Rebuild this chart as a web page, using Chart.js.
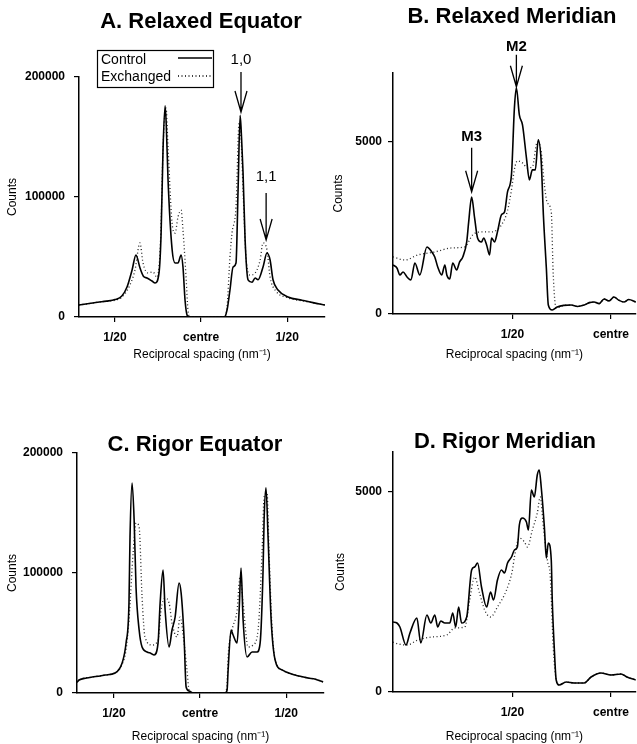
<!DOCTYPE html>
<html>
<head>
<meta charset="utf-8">
<script src="https://cdn.jsdelivr.net/npm/chart.js@4.4.0/dist/chart.umd.min.js"></script>
<style>
  body { margin: 0; background: #fff; }
  #fig { position: relative; width: 637px; height: 744px; overflow: hidden; }
  #fig canvas { position: absolute; }
</style>
</head>
<body>
<div id="fig">
  <canvas id="panelA" width="330" height="370" style="left:0;top:0"></canvas>
  <canvas id="panelB" width="317" height="370" style="left:320px;top:0"></canvas>
  <canvas id="panelC" width="330" height="374" style="left:0;top:370px"></canvas>
  <canvas id="panelD" width="317" height="374" style="left:320px;top:370px"></canvas>
</div>
<script>
// x values are reciprocal spacing in 10^-3 nm^-1 (centre = 0, 1/20 = 50), y values are counts
const seriesNames = ['Control', 'Exchanged'];
const panelTitles = ['A. Relaxed Equator', 'B. Relaxed Meridian', 'C. Rigor Equator', 'D. Rigor Meridian'];
const equatorTicks = [-50, 0, 50];
const equatorTickLabels = ['1/20', 'centre', '1/20'];
const meridianTicks = [-50, 0];
const meridianTickLabels = ['1/20', 'centre'];
const equatorCountTicks = [0, 100000, 200000];
const meridianCountTicks = [0, 5000];

// reflection markers: label, [x, counts at arrow tip]
const relaxedEquatorMarks = [['1,0', [23.2, 170800]], ['1,1', [37.8, 64200]]];
const relaxedMeridianMarks = [['M3', [-70.7, 3550]], ['M2', [-48.0, 6600]]];

const relaxedEquatorControl = [
  [-70.9,10000],[-65,11200],[-60,12300],[-55,13200],[-50,14500],[-46,17500],[-43.0,25000],[-40.1,39000],
  [-37.8,51700],[-35.5,41000],[-33.5,34000],[-31.4,32500],[-28.5,30000],[-26.7,28300],[-24.4,37000],
  [-23.2,70000],[-22.1,139000],[-20.9,176000],[-20.2,160000],[-19.2,115000],[-16.8,56000],[-15.1,45000],
  [-13.4,45000],[-11.6,51700],[-10.5,41700],[-9.3,14000],[-8.1,1500],[-7.0,0],[13.5,0],[15.1,5800],
  [16.8,22500],[18.6,41700],[20.3,45000],[21.5,105800],[22.7,168000],[23.5,150000],[24.4,120000],
  [25.6,64000],[27.3,31000],[29.6,29000],[31.4,32500],[33.1,31000],[36.0,41700],[38.3,53300],[40.1,47500],
  [41.8,31000],[44.7,22500],[50.5,16700],[58.7,14000],[65,12000],[72,10000]
];
const relaxedEquatorExchanged = [
  [-70.9,10000],[-65,11200],[-60,12300],[-55,13200],[-50,14000],[-46,16500],[-41.3,26700],[-38.4,39000],
  [-35.5,61700],[-33.7,45000],[-30.8,36700],[-27.9,37500],[-25.6,33000],[-24.0,50000],[-23.2,78000],
  [-22.1,140000],[-20.3,174000],[-19.2,141700],[-16.8,78000],[-15.1,70000],[-13.4,83300],[-11.6,89000],
  [-10.5,72500],[-8.7,33000],[-7.6,5800],[-6.4,0],[13.5,0],[15.1,8300],[16.8,50000],[18.0,70000],
  [20.3,91700],[22.1,161700],[23.2,150000],[24.4,105800],[26.1,50000],[28.5,35000],[31.4,36700],
  [34.3,47500],[36.0,61700],[38.3,55800],[40.1,33300],[43.0,22500],[50.5,16000],[58.7,13500],[65,11800],[72,10000]
];

const relaxedMeridianControl = [
  [-110.6,1424],[-108.6,1337],[-107.1,1134],[-105.5,1221],[-103.5,1076],[-101.5,988],[-99.5,1483],[-97.0,1134],
  [-93.4,1948],[-90.9,1802],[-89.4,1657],[-87.9,1366],[-85.9,1134],[-84.3,1424],[-83.3,1134],[-81.8,1017],
  [-80.3,1483],[-78.3,1279],[-76.8,1512],[-75.2,1657],[-73.2,2093],[-72.2,2674],[-70.7,3400],[-69.2,2791],
  [-67.7,2209],[-65.7,2093],[-64.6,2209],[-63.1,2006],[-61.6,1715],[-60.6,2209],[-59.1,2093],[-57.6,2384],
  [-55.6,2878],[-54.0,2965],[-52.5,3547],[-50.5,4040],[-49.0,5988],[-48.0,6570],[-46.5,5785],[-44.9,5494],
  [-42.9,4535],[-41.4,3895],[-39.9,4186],[-38.4,4186],[-36.9,5058],[-35.4,4419],[-34.3,2878],[-32.8,1337],
  [-31.8,262],[-29.8,116],[-27.3,203],[-24,250],[-20.2,262],[-17,220],[-13.6,262],[-11,330],[-8.6,349],
  [-6,300],[-3.5,436],[-1,380],[1.5,494],[4,400],[6.6,349],[9,420],[12.6,349]
];
const relaxedMeridianExchanged = [
  [-110.6,1657],[-104.5,1570],[-98.0,1715],[-89.4,1802],[-80.8,1919],[-74.2,1948],[-70.2,2296],[-65.7,2384],
  [-60.6,2384],[-55.6,2587],[-52.5,3000],[-50.5,3600],[-49.0,4200],[-47.5,4450],[-44.9,4390],[-42.4,4244],
  [-39.9,4273],[-37.4,5000],[-35.4,4709],[-33.8,3750],[-32.3,3227],[-30.3,2965],[-29.3,1134],[-27.8,174],
  [-24,250],[-20.2,262],[-17,220],[-13.6,262],[-11,330],[-8.6,349],[-6,300],[-3.5,436],[-1,380],[1.5,494],
  [4,400],[6.6,349],[9,420],[12.6,349]
];

const rigorEquatorControl = [
  [-71.5,9000],[-70.3,10800],[-66,12500],[-62.7,13300],[-58,14200],[-55.2,15000],[-49.4,16700],[-45.3,25000],
  [-43.0,41700],[-41.3,75000],[-40.7,130000],[-39.5,175000],[-38.3,144000],[-37.2,88000],[-35.4,52500],
  [-33.7,38300],[-30.8,34200],[-28.5,33000],[-26.7,31700],[-24.4,41700],[-23.2,75000],[-21.5,102500],
  [-20.3,69000],[-18.0,38300],[-16.3,52500],[-14.5,63300],[-12.2,91700],[-11.0,83300],[-9.3,46700],
  [-8.1,5000],[-6.4,1700],[-4,0],[14.5,0],[15.7,2500],[16.3,19200],[18.0,52500],[19.2,48300],[21.5,41700],
  [22.7,69000],[23.8,104200],[25.0,60800],[27.3,30000],[30.2,34200],[33.1,34200],[34.9,41700],[36.6,102500],
  [37.2,144000],[38.3,171000],[39.5,130000],[41.3,60800],[43.6,27500],[47.6,19200],[55.2,15000],[62.7,12500],
  [67,11500],[71.5,9200]
];
const rigorEquatorExchanged = [
  [-71.5,9000],[-70.3,10800],[-62.7,13300],[-55.2,15000],[-49.4,16700],[-45.3,24000],[-43.0,36000],
  [-41.3,60800],[-38.9,116700],[-37.2,141700],[-35.4,138300],[-33.7,80000],[-32.0,46700],[-27.9,40000],
  [-24.4,44200],[-22.7,69000],[-20.3,79000],[-18.0,75000],[-16.3,58300],[-13.4,46700],[-11.6,63300],
  [-9.3,41700],[-7.6,19200],[-6.4,2500],[-4.1,0],[14.5,0],[15.7,8000],[16.3,30000],[18.6,52500],[21.5,69000],
  [23.2,96700],[25.0,75000],[27.9,38300],[30.8,40000],[33.7,52500],[36.0,116700],[37.2,163300],[38.9,166700],
  [40.1,116700],[41.8,55000],[43.6,27500],[47.6,19200],[55.2,15000],[62.7,12500],[67,11500],[71.5,9200]
];

const rigorMeridianControl = [
  [-110.6,1750],[-108.6,1725],[-107.1,1625],[-104.0,1175],[-102.0,1475],[-98.5,1850],[-96.5,1225],[-93.4,1925],
  [-91.4,1725],[-89.4,1925],[-87.9,1625],[-86.4,1775],[-84.3,1725],[-81.8,1725],[-80.3,1975],[-78.8,1625],
  [-77.3,2125],[-75.8,1725],[-73.2,1875],[-70.7,3050],[-69.2,3125],[-67.7,3225],[-65.7,2625],[-63.1,2125],
  [-61.1,2500],[-59.6,2300],[-57.6,2800],[-55.6,3050],[-54.0,2975],[-52.5,3225],[-50.5,3375],[-49.0,3550],
  [-47.5,3625],[-46.5,4175],[-44.9,4350],[-42.9,4250],[-41.9,4050],[-40.4,5050],[-38.9,4875],[-37.4,5425],
  [-36.4,5550],[-35.4,5125],[-33.8,4125],[-32.8,3350],[-31.8,3725],[-30.3,3300],[-29.8,2300],[-28.8,1125],
  [-27.8,300],[-26.3,175],[-22.7,250],[-18.7,225],[-13.6,225],[-10.1,375],[-5.1,475],[0,425],[5.1,450],
  [8.1,375],[12.6,300]
];
const rigorMeridianExchanged = [
  [-110.6,1250],[-109.6,1225],[-103.5,1175],[-98.0,1300],[-90.9,1375],[-83.3,1425],[-79.3,1600],[-74.2,1625],
  [-71.7,2300],[-69.2,2875],[-66.7,2475],[-64.1,2050],[-61.1,1875],[-57.6,2125],[-53.0,2550],[-50.0,3050],
  [-49.0,3375],[-46.5,3850],[-43.9,3750],[-42.4,3625],[-39.9,4050],[-37.4,4475],[-35.9,4875],[-34.3,4125],
  [-32.3,3300],[-30.8,2875],[-29.3,1125],[-27.8,300],[-26.3,175],[-22.7,250],[-18.7,225],[-13.6,225],
  [-10.1,375],[-5.1,475],[0,425],[5.1,450],[8.1,375],[12.6,300]
];

const FONT = '"Liberation Sans", Arial, Helvetica, sans-serif';

// titles, arrows and the legend box are drawn on top of each panel
function makeDecor(p) {
  return {
    id: 'decor',
    afterDraw(chart) {
      const ctx = chart.ctx;
      const xs = chart.scales.x, ys = chart.scales.y;
      ctx.save();
      ctx.fillStyle = '#000';
      ctx.strokeStyle = '#000';
      ctx.textAlign = 'center';
      ctx.textBaseline = 'middle';
      ctx.font = 'bold 22px ' + FONT;
      ctx.fillText(p.title, p.titleAt[0], p.titleAt[1]);

      (p.marks || []).forEach(([label, at], i) => {
        const tx = xs.getPixelForValue(at[0]);
        const ty = ys.getPixelForValue(at[1]);
        const top = ty - p.arrowLen[i];
        ctx.lineWidth = 1.3;
        ctx.beginPath();
        ctx.moveTo(tx, top);
        ctx.lineTo(tx, ty);
        ctx.moveTo(tx - 6, ty - 21);
        ctx.lineTo(tx, ty);
        ctx.lineTo(tx + 6, ty - 21);
        ctx.stroke();
        ctx.font = p.markFont;
        ctx.fillText(label, tx, top - p.labelGap[i]);
      });

      if (p.legend) {
        ctx.fillStyle = '#fff';
        ctx.fillRect(97, 50, 116, 37);
        ctx.lineWidth = 1.2;
        ctx.strokeRect(97.5, 50.5, 116, 37);
        ctx.fillStyle = '#000';
        ctx.textAlign = 'left';
        ctx.font = '14px ' + FONT;
        ctx.fillText(seriesNames[0], 101, 60);
        ctx.fillText(seriesNames[1], 101, 77);
        ctx.lineWidth = 1.6;
        ctx.beginPath();
        ctx.moveTo(178, 58);
        ctx.lineTo(212, 58);
        ctx.stroke();
        ctx.lineWidth = 1.3;
        ctx.setLineDash([1, 2.5]);
        ctx.beginPath();
        ctx.moveTo(178, 76);
        ctx.lineTo(212, 76);
        ctx.stroke();
      }
      ctx.restore();
    }
  };
}

function makePanel(canvasId, p) {
  const pts = arr => arr.map(([x, y]) => ({ x, y }));
  new Chart(document.getElementById(canvasId), {
    type: 'line',
    data: {
      datasets: [
        { label: seriesNames[0], data: pts(p.control), borderColor: '#000', borderWidth: 1.6,
          pointRadius: 0, cubicInterpolationMode: 'monotone' },
        { label: seriesNames[1], data: pts(p.exchanged), borderColor: '#222', borderWidth: 1.3,
          borderDash: [1, 2.5], pointRadius: 0, cubicInterpolationMode: 'monotone' }
      ]
    },
    options: {
      responsive: false,
      animation: false,
      devicePixelRatio: 1,
      layout: { padding: p.padding },
      plugins: { legend: { display: false }, tooltip: { enabled: false } },
      scales: {
        x: {
          type: 'linear',
          min: p.xMin,
          max: p.xMax,
          afterBuildTicks: s => { s.ticks = p.xTicks.map(v => ({ value: v })); },
          afterFit: s => { s.height = p.xHeight; },
          ticks: {
            padding: 8, color: '#000', maxRotation: 0, autoSkip: false,
            font: { family: FONT, size: 12, weight: 'bold' },
            callback: (v, i) => p.xLabels[i]
          },
          grid: { drawOnChartArea: false, tickLength: 5, color: '#000', lineWidth: 1.2 },
          border: { color: '#000', width: 1.5 },
          title: {
            display: true, text: 'Reciprocal spacing (nm⁻¹)', color: '#000',
            font: { family: FONT, size: 12 }, padding: { top: 0, bottom: p.xTitlePad }
          }
        },
        y: {
          min: 0,
          max: p.yMax,
          afterBuildTicks: s => { s.ticks = p.yTicks.map(v => ({ value: v })); },
          afterFit: s => { s.width = p.yWidth; },
          ticks: {
            padding: p.yTickPad, color: '#000',
            font: { family: FONT, size: 12, weight: 'bold' },
            callback: v => String(v)
          },
          grid: { drawOnChartArea: false, tickLength: 5, color: '#000', lineWidth: 1.2 },
          border: { color: '#000', width: 1.5 },
          title: {
            display: true, text: 'Counts', color: '#000',
            font: { family: FONT, size: 12 }, padding: { top: p.yTitlePad, bottom: 0 }
          }
        }
      }
    },
    plugins: [makeDecor(p)]
  });
}

makePanel('panelA', {
  control: relaxedEquatorControl, exchanged: relaxedEquatorExchanged,
  xMin: -70.9, xMax: 72.0, xTicks: equatorTicks, xLabels: equatorTickLabels,
  yMax: 200000, yTicks: equatorCountTicks,
  padding: { left: 0, right: 5, top: 77, bottom: 0 },
  yWidth: 79, xHeight: 53, yTickPad: 9, xTitlePad: 7.8, yTitlePad: 5.8,
  title: panelTitles[0], titleAt: [201, 22],
  marks: relaxedEquatorMarks, arrowLen: [40, 47], labelGap: [12, 16], markFont: '15px ' + FONT,
  legend: true
});

makePanel('panelB', {
  control: relaxedMeridianControl, exchanged: relaxedMeridianExchanged,
  xMin: -110.6, xMax: 12.6, xTicks: meridianTicks, xLabels: meridianTickLabels,
  yMax: 7000, yTicks: meridianCountTicks,
  padding: { left: 0, right: 0, top: 73, bottom: 0 },
  yWidth: 73, xHeight: 56, yTickPad: 6, xTitlePad: 7.8, yTitlePad: 11.8,
  title: panelTitles[1], titleAt: [192, 17],
  marks: relaxedMeridianMarks, arrowLen: [44, 32], labelGap: [11, 8], markFont: 'bold 15px ' + FONT
});

makePanel('panelC', {
  control: rigorEquatorControl, exchanged: rigorEquatorExchanged,
  xMin: -71.5, xMax: 72.0, xTicks: equatorTicks, xLabels: equatorTickLabels,
  yMax: 200000, yTicks: equatorCountTicks,
  padding: { left: 0, right: 6, top: 83, bottom: 0 },
  yWidth: 77, xHeight: 51, yTickPad: 9, xTitlePad: 0, yTitlePad: 5.8,
  title: panelTitles[2], titleAt: [195, 75]
});

makePanel('panelD', {
  control: rigorMeridianControl, exchanged: rigorMeridianExchanged,
  xMin: -110.6, xMax: 12.6, xTicks: meridianTicks, xLabels: meridianTickLabels,
  yMax: 6000, yTicks: meridianCountTicks,
  padding: { left: 0, right: 0, top: 82, bottom: 0 },
  yWidth: 73, xHeight: 52, yTickPad: 6, xTitlePad: 0, yTitlePad: 13.8,
  title: panelTitles[3], titleAt: [185, 72]
});
</script>
</body>
</html>
